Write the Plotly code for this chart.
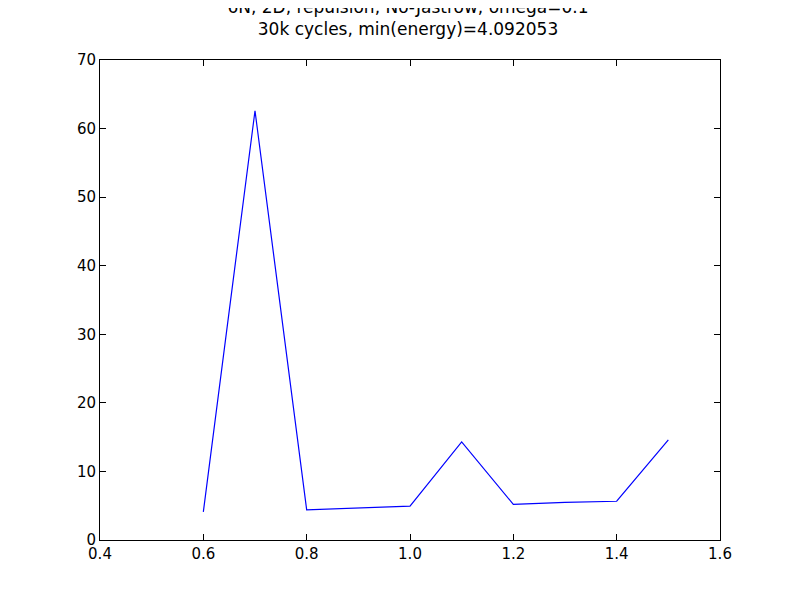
import plotly.graph_objects as go

# omega values and energy variance
omega = [0.6, 0.7, 0.8, 1.0, 1.1, 1.2, 1.3, 1.4, 1.5]
values = [4.092053, 62.6, 4.4, 4.95, 14.3, 5.2, 5.5, 5.65, 14.6]

fig = go.Figure()
fig.add_trace(go.Scatter(x=omega, y=values, mode="lines",
                         line=dict(color="blue", width=1.2)))

axis = dict(showgrid=False, zeroline=False, showline=True, linecolor="black",
            linewidth=1, mirror="ticks", ticks="inside", ticklen=6,
            tickcolor="black", tickfont=dict(size=15, color="black"))

fig.update_layout(
    width=800, height=600,
    margin=dict(l=92, r=88, t=52, b=68),
    paper_bgcolor="white", plot_bgcolor="white",
    font=dict(family="DejaVu Sans", color="black"),
    showlegend=False,
    title=dict(text="6N, 2D, repulsion, No-Jastrow, omega=0.1<br>30k cycles, min(energy)=4.092053",
               x=0.5, xanchor="center", y=0.992, yanchor="top",
               font=dict(size=17, color="black")),
    xaxis=dict(axis, range=[0.4, 1.6], dtick=0.2, tickformat=".1f"),
    yaxis=dict(axis, range=[0, 70], dtick=10),
)

fig.write_html("out.html")
